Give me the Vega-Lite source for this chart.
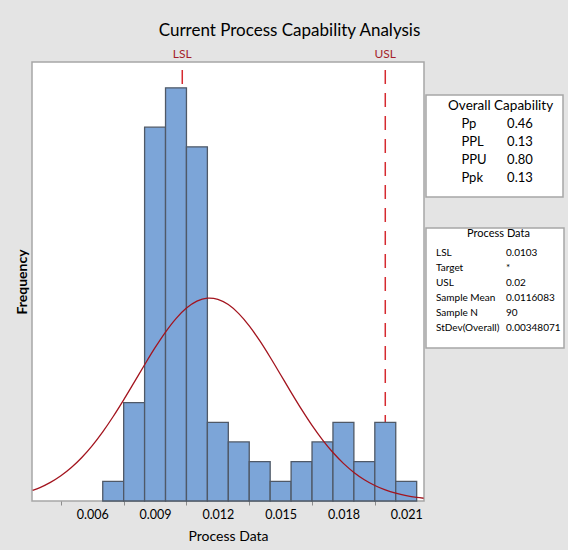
{
  "$schema": "https://vega.github.io/schema/vega-lite/v6.json",
  "background": "#e4e4e4",
  "padding": {"left": 14, "top": 22, "right": 5, "bottom": 5},
  "title": {"text": "Current Process Capability Analysis", "anchor": "middle", "fontSize": 17, "font": "Lato", "fontWeight": "normal", "color": "#000000", "offset": 7},
  "config": {"font": "Lato", "view": {"stroke": null}},
  "datasets": {
    "bins": [
      {"start": 0.0065, "end": 0.0075, "count": 1},
      {"start": 0.0075, "end": 0.0085, "count": 5},
      {"start": 0.0085, "end": 0.0095, "count": 19},
      {"start": 0.0095, "end": 0.0105, "count": 21},
      {"start": 0.0105, "end": 0.0115, "count": 18},
      {"start": 0.0115, "end": 0.0125, "count": 4},
      {"start": 0.0125, "end": 0.0135, "count": 3},
      {"start": 0.0135, "end": 0.0145, "count": 2},
      {"start": 0.0145, "end": 0.0155, "count": 1},
      {"start": 0.0155, "end": 0.0165, "count": 2},
      {"start": 0.0165, "end": 0.0175, "count": 3},
      {"start": 0.0175, "end": 0.0185, "count": 4},
      {"start": 0.0185, "end": 0.0195, "count": 2},
      {"start": 0.0195, "end": 0.0205, "count": 4},
      {"start": 0.0205, "end": 0.0215, "count": 1}
    ],
    "curve": [
      {"x": 0.00315, "f": 0.545},
      {"x": 0.0035, "f": 0.684},
      {"x": 0.004, "f": 0.946},
      {"x": 0.0045, "f": 1.282},
      {"x": 0.005, "f": 1.701},
      {"x": 0.0055, "f": 2.212},
      {"x": 0.006, "f": 2.817},
      {"x": 0.0065, "f": 3.514},
      {"x": 0.007, "f": 4.294},
      {"x": 0.0075, "f": 5.140},
      {"x": 0.008, "f": 6.027},
      {"x": 0.0085, "f": 6.923},
      {"x": 0.009, "f": 7.790},
      {"x": 0.0095, "f": 8.586},
      {"x": 0.01, "f": 9.271},
      {"x": 0.0105, "f": 9.805},
      {"x": 0.011, "f": 10.159},
      {"x": 0.0115, "f": 10.310},
      {"x": 0.0116, "f": 10.315},
      {"x": 0.012, "f": 10.250},
      {"x": 0.0125, "f": 9.982},
      {"x": 0.013, "f": 9.523},
      {"x": 0.0135, "f": 8.899},
      {"x": 0.014, "f": 8.146},
      {"x": 0.0145, "f": 7.305},
      {"x": 0.015, "f": 6.416},
      {"x": 0.0155, "f": 5.521},
      {"x": 0.016, "f": 4.654},
      {"x": 0.0165, "f": 3.842},
      {"x": 0.017, "f": 3.108},
      {"x": 0.0175, "f": 2.462},
      {"x": 0.018, "f": 1.911},
      {"x": 0.0185, "f": 1.453},
      {"x": 0.019, "f": 1.082},
      {"x": 0.0195, "f": 0.789},
      {"x": 0.02, "f": 0.564},
      {"x": 0.0205, "f": 0.395},
      {"x": 0.021, "f": 0.271},
      {"x": 0.0215, "f": 0.182},
      {"x": 0.02183, "f": 0.140}
    ],
    "limits": [
      {"limit": "LSL", "value": 0.0103},
      {"limit": "USL", "value": 0.02}
    ],
    "cap": [
      {"name": "Pp", "val": "0.46"},
      {"name": "PPL", "val": "0.13"},
      {"name": "PPU", "val": "0.80"},
      {"name": "Ppk", "val": "0.13"}
    ],
    "capHead": [{"h": "Overall Capability"}],
    "proc": [
      {"name": "LSL", "val": "0.0103"},
      {"name": "Target", "val": "*"},
      {"name": "USL", "val": "0.02"},
      {"name": "Sample Mean", "val": "0.0116083"},
      {"name": "Sample N", "val": "90"},
      {"name": "StDev(Overall)", "val": "0.00348071"}
    ],
    "procHead": [{"h": "Process Data"}]
  },
  "hconcat": [
    {
      "width": 392,
      "height": 439,
      "view": {"fill": "#ffffff", "stroke": "#a6a6a6", "strokeWidth": 1.5},
      "layer": [
        {
          "data": {"name": "limits"},
          "mark": {"type": "rule", "color": "#d52a30", "strokeWidth": 1.5, "strokeDash": [14, 9], "strokeDashOffset": 15},
          "encoding": {
            "x": {
              "field": "value", "type": "quantitative",
              "scale": {"domain": [0.00312, 0.02185], "nice": false, "zero": false},
              "axis": {
                "title": "Process Data",
                "values": [0.006, 0.009, 0.012, 0.015, 0.018, 0.021],
                "format": ".3f",
                "tickOffset": -31.4,
                "labelOffset": 31.4,
                "tickColor": "#8c8c8c",
                "tickSize": 4,
                "tickWidth": 1,
                "domain": false,
                "grid": false,
                "labelOverlap": false,
                "labelFlush": false,
                "labelFontSize": 12.5,
                "labelColor": "#000000",
                "labelPadding": 3,
                "titleFontSize": 14,
                "titleFontWeight": "normal",
                "titleColor": "#000000",
                "titlePadding": 9
              }
            },
            "y": {"datum": 22.31, "type": "quantitative"},
            "y2": {"datum": 0}
          }
        },
        {
          "data": {"name": "bins"},
          "mark": {"type": "rect", "fill": "#7ca5d8", "stroke": "#4f5967", "strokeWidth": 1.3},
          "encoding": {
            "x": {"field": "start", "type": "quantitative"},
            "x2": {"field": "end"},
            "y": {
              "field": "count", "type": "quantitative",
              "scale": {"domain": [0, 22.31], "nice": false},
              "axis": {
                "title": "Frequency",
                "ticks": false, "labels": false, "domain": false, "grid": false,
                "minExtent": 0,
                "titleFontSize": 14, "titleFontWeight": "bold", "titleColor": "#000000",
                "titlePadding": 3
              }
            },
            "y2": {"datum": 0}
          }
        },
        {
          "data": {"name": "curve"},
          "mark": {"type": "line", "color": "#a3141e", "strokeWidth": 1.3, "interpolate": "monotone"},
          "encoding": {
            "x": {"field": "x", "type": "quantitative"},
            "y": {"field": "f", "type": "quantitative"}
          }
        },
        {
          "data": {"name": "limits"},
          "mark": {"type": "text", "color": "#a51f2b", "fontSize": 12, "baseline": "bottom", "dy": -1},
          "encoding": {
            "x": {"field": "value", "type": "quantitative"},
            "y": {"datum": 22.31, "type": "quantitative"},
            "text": {"field": "limit"}
          }
        }
      ]
    },
    {
      "vconcat": [
        {
          "width": 137,
          "height": 2,
          "data": {"values": [{}]},
          "mark": {"type": "text"},
          "encoding": {"text": {"value": ""}}
        },
        {
          "width": 137,
          "height": 102,
          "view": {"fill": "#ffffff", "stroke": "#a6a6a6", "strokeWidth": 1.5},
          "layer": [
            {
              "data": {"name": "cap"},
              "mark": {"type": "text", "align": "left", "baseline": "middle", "fontSize": 13, "color": "#000000"},
              "encoding": {
                "x": {"datum": "Name", "type": "nominal", "scale": {"type": "point", "domain": ["Name", "Value"], "padding": 1.256, "align": 0.388}, "axis": null},
                "y": {"field": "name", "type": "ordinal", "scale": {"type": "point", "domain": ["Overall Capability", "Pp", "PPL", "PPU", "Ppk"], "padding": 0.8255, "align": 0.362}, "axis": null},
                "text": {"field": "name"}
              }
            },
            {
              "data": {"name": "cap"},
              "mark": {"type": "text", "align": "left", "baseline": "middle", "fontSize": 13, "color": "#000000"},
              "encoding": {
                "x": {"datum": "Value", "type": "nominal"},
                "y": {"field": "name", "type": "ordinal"},
                "text": {"field": "val"}
              }
            },
            {
              "data": {"name": "capHead"},
              "mark": {"type": "text", "align": "center", "baseline": "middle", "fontSize": 13.5, "color": "#000000", "dx": -6.5},
              "encoding": {
                "x": {"datum": "Value", "type": "nominal"},
                "y": {"field": "h", "type": "ordinal"},
                "text": {"field": "h"}
              }
            }
          ]
        },
        {
          "width": 138,
          "height": 120,
          "view": {"fill": "#ffffff", "stroke": "#a6a6a6", "strokeWidth": 1.5},
          "layer": [
            {
              "data": {"name": "proc"},
              "mark": {"type": "text", "align": "left", "baseline": "middle", "fontSize": 10, "color": "#000000"},
              "encoding": {
                "x": {"datum": "Name", "type": "nominal", "scale": {"type": "point", "domain": ["Name", "Value"], "padding": 0.486, "align": 0.147}, "axis": null},
                "y": {"field": "name", "type": "ordinal", "scale": {"type": "point", "domain": ["Process Data", "LSL", "Target", "USL", "Sample Mean", "Sample N", "StDev(Overall)"], "padding": 1.839, "align": 0.32}, "axis": null},
                "text": {"field": "name"}
              }
            },
            {
              "data": {"name": "proc"},
              "mark": {"type": "text", "align": "left", "baseline": "middle", "fontSize": 10, "color": "#000000"},
              "encoding": {
                "x": {"datum": "Value", "type": "nominal"},
                "y": {"field": "name", "type": "ordinal"},
                "text": {"field": "val"}
              }
            },
            {
              "data": {"name": "procHead"},
              "mark": {"type": "text", "align": "center", "baseline": "middle", "fontSize": 11, "color": "#000000", "dx": -7.5, "dy": -3.5},
              "encoding": {
                "x": {"datum": "Value", "type": "nominal"},
                "y": {"field": "h", "type": "ordinal"},
                "text": {"field": "h"}
              }
            }
          ]
        }
      ],
      "spacing": 31,
      "bounds": "flush"
    }
  ],
  "spacing": 2,
  "bounds": "flush"
}
